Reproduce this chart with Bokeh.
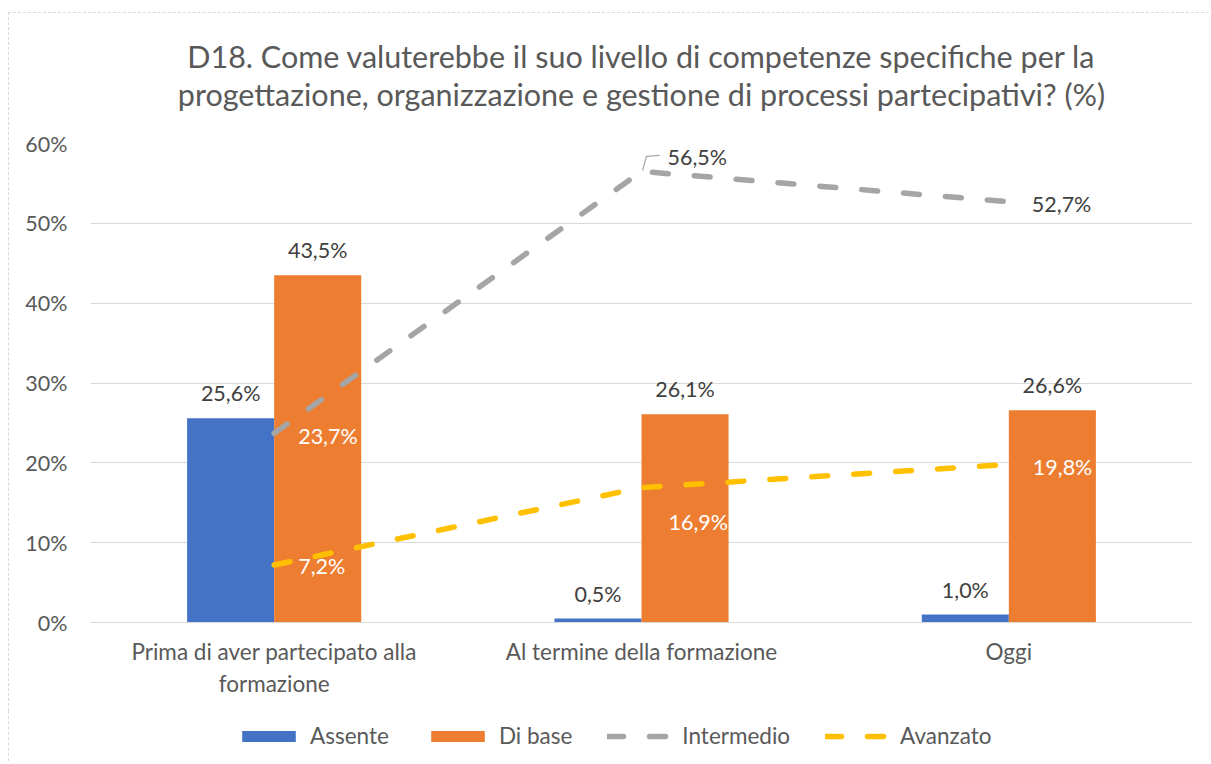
from bokeh.plotting import figure
from bokeh.models import (FactorRange, Range1d, Legend, LegendItem, Title,
                          ColumnDataSource, PrintfTickFormatter, FixedTicker,
                          CategoricalAxis, CustomJSTickFormatter)
from bokeh.layouts import column
from bokeh.transform import dodge
from bokeh.core.properties import value
from bokeh.embed import file_html
from bokeh.resources import INLINE

# ---------------- data ----------------
categories = ["Prima di aver partecipato alla formazione",
              "Al termine della formazione",
              "Oggi"]
tick_line1 = ["Prima di aver partecipato alla", "Al termine della formazione", "Oggi"]
tick_line2 = ["formazione", "", ""]
assente = [25.6, 0.5, 1.0]
di_base = [43.5, 26.1, 26.6]
intermedio = [23.7, 56.5, 52.7]
avanzato = [7.2, 16.9, 19.8]
series_names = ["Assente", "Di base", "Intermedio", "Avanzato"]
title_lines = ["D18. Come valuterebbe il suo livello di competenze specifiche per la",
               "progettazione, organizzazione e gestione di processi partecipativi? (%)"]
y_ticks = [0, 10, 20, 30, 40, 50, 60]

# ---------------- style ----------------
FONT = "Lato"
BLUE, ORANGE, GRAY, YELLOW = "#4472C4", "#ED7D31", "#A5A5A5", "#FFC000"
TXT, LBL, GRID = "#595959", "#404040", "#D9D9D9"
NUM_FS = "21.5px"
WORD_FS = "22.5px"
BAR_W = 0.237
DODGE = BAR_W / 2
DASH = "16 26"
LW = 5.5
BORDER = "1px dashed #D9D9D9"
# label offsets (screen px) for the line series
int_off_x = [24, 26, 23]
int_off_y = [3, -14, 2]
int_col = ["white", LBL, LBL]
ava_off_x = [24, 27, 24]
ava_off_y = [1, 34, 3]
ava_col = ["white", "white", "white"]


def fmt(v):
    return f"{v:.1f}".replace(".", ",") + "%"


def label_formatter(labels):
    return CustomJSTickFormatter(
        args=dict(cats=list(categories), labs=list(labels)),
        code="const i = cats.indexOf(tick); return i >= 0 ? labs[i] : tick;")


src = ColumnDataSource(dict(
    cat=categories,
    assente=assente, di_base=di_base, intermedio=intermedio, avanzato=avanzato,
    assente_lbl=[fmt(v) for v in assente],
    di_base_lbl=[fmt(v) for v in di_base],
    int_lbl=[fmt(v) for v in intermedio],
    ava_lbl=[fmt(v) for v in avanzato],
    int_ox=int_off_x, int_oy=int_off_y, int_col=int_col,
    ava_ox=ava_off_x, ava_oy=ava_off_y, ava_col=ava_col,
))

p = figure(x_range=FactorRange(*categories), y_range=Range1d(0, 60),
           frame_width=1101, frame_height=478,
           output_backend="svg", toolbar_location=None,
           min_border_left=81, min_border_right=18, min_border_bottom=90,
           min_border_top=130)
p.title = None
p.styles = {"margin-left": "8px", "margin-top": "12px",
            "border-left": BORDER, "border-top": BORDER}
p.outline_line_color = None
p.background_fill_color = "white"
p.border_fill_color = "white"

# titles: spacer nearest the plot, then line 2, then line 1
spacer = Title(text=" ", text_font=FONT, text_font_size="25px", standoff=0)
t2 = Title(text=title_lines[1], align="center", text_font=FONT,
           text_font_size="30.5px", text_color=TXT, text_font_style="normal",
           standoff=0)
t1 = Title(text=title_lines[0], align="center", text_font=FONT,
           text_font_size="30.5px", text_color=TXT, text_font_style="normal",
           standoff=0)
p.add_layout(spacer, "above")
p.add_layout(t2, "above")
p.add_layout(t1, "above")

# axes
p.yaxis.ticker = FixedTicker(ticks=y_ticks)
p.yaxis.formatter = PrintfTickFormatter(format="%d%%")
p.yaxis.axis_line_color = None
p.yaxis.major_tick_line_color = None
p.yaxis.minor_tick_line_color = None
p.yaxis.major_label_text_font = FONT
p.yaxis.major_label_text_font_size = NUM_FS
p.yaxis.major_label_text_color = TXT
p.yaxis.major_label_standoff = 17

xa = p.xaxis[0]
xa.axis_line_color = GRID
xa.major_tick_line_color = None
xa.minor_tick_line_color = None
xa.major_label_text_font = FONT
xa.major_label_text_font_size = WORD_FS
xa.major_label_text_color = TXT
xa.major_label_standoff = 9
xa.formatter = label_formatter(tick_line1)

xa2 = CategoricalAxis(axis_line_color=None, major_tick_line_color=None,
                      minor_tick_line_color=None, major_label_text_font=FONT,
                      major_label_text_font_size=WORD_FS,
                      major_label_text_color=TXT, major_label_standoff=-4,
                      formatter=label_formatter(tick_line2))
p.add_layout(xa2, "below")

p.xgrid.grid_line_color = None
p.ygrid.grid_line_color = GRID
p.ygrid.grid_line_width = 1

# bars
b1 = p.vbar(x=dodge("cat", -DODGE, range=p.x_range), top="assente", width=BAR_W,
            source=src, fill_color=BLUE, line_color=None)
b2 = p.vbar(x=dodge("cat", DODGE, range=p.x_range), top="di_base", width=BAR_W,
            source=src, fill_color=ORANGE, line_color=None)

# bar labels
for col, lbl, d in (("assente", "assente_lbl", -DODGE), ("di_base", "di_base_lbl", DODGE)):
    p.text(x=dodge("cat", d, range=p.x_range), y=col, text=lbl, source=src,
           text_align="center", text_baseline="middle", y_offset=-25,
           text_font=value(FONT), text_font_size=NUM_FS, text_color=LBL)

# lines
l1 = p.line(x="cat", y="intermedio", source=src, line_color=GRAY, line_width=LW,
            line_dash=DASH, line_cap="round")
l2 = p.line(x="cat", y="avanzato", source=src, line_color=YELLOW, line_width=LW,
            line_dash=DASH, line_cap="round")

# leader line for the 2nd Intermedio label
px_x = 1.0 / 367.0          # category units per pixel (approx)
px_y = 60.0 / 478.0         # value units per pixel (approx)
i = 1
lead_src = ColumnDataSource(dict(
    x=[(categories[i], 1 * px_x), (categories[i], 5 * px_x), (categories[i], 18 * px_x)],
    y=[intermedio[i] + 1 * px_y, intermedio[i] + 15 * px_y, intermedio[i] + 16 * px_y],
))
p.line(x="x", y="y", source=lead_src, line_color=GRAY, line_width=1.2)

# line labels
p.text(x="cat", y="intermedio", text="int_lbl", source=src, x_offset="int_ox",
       y_offset="int_oy", text_color="int_col", text_align="left",
       text_baseline="middle", text_font=value(FONT), text_font_size=NUM_FS)
p.text(x="cat", y="avanzato", text="ava_lbl", source=src, x_offset="ava_ox",
       y_offset="ava_oy", text_color="ava_col", text_align="left",
       text_baseline="middle", text_font=value(FONT), text_font_size=NUM_FS)

# ---------------- legend strip ----------------
pl = figure(width=1200, height=50, output_backend="svg", toolbar_location=None,
            x_range=Range1d(0, 1), y_range=Range1d(0, 1), min_border=0)
pl.styles = {"margin-left": "8px", "border-left": BORDER}
pl.axis.visible = False
pl.grid.grid_line_color = None
pl.outline_line_color = None
# swatch renderers: zero-height bars / off-range lines, only legend glyphs show
lb1 = pl.vbar(x=[0.5], top=[0], bottom=[0], width=0.01, fill_color=BLUE, line_color=None)
lb2 = pl.vbar(x=[0.5], top=[0], bottom=[0], width=0.01, fill_color=ORANGE, line_color=None)
ll1 = pl.line(x=[0.2, 0.3], y=[-5, -5], line_color=GRAY, line_width=LW,
              line_dash=DASH, line_cap="round")
ll2 = pl.line(x=[0.2, 0.3], y=[-5, -5], line_color=YELLOW, line_width=LW,
              line_dash=DASH, line_cap="round")

legend = Legend(items=[LegendItem(label=series_names[0], renderers=[lb1]),
                       LegendItem(label=series_names[1], renderers=[lb2]),
                       LegendItem(label=series_names[2], renderers=[ll1]),
                       LegendItem(label=series_names[3], renderers=[ll2])],
                orientation="horizontal", location=(145, 12),
                label_text_font=FONT, label_text_font_size=WORD_FS,
                label_text_color=TXT, glyph_width=67, glyph_height=14,
                spacing=35, label_standoff=8, border_line_color=None,
                background_fill_alpha=0, margin=0, padding=0)
pl.add_layout(legend, "center")

layout = column(p, pl, spacing=0)
open("out.html", "w").write(file_html(layout, INLINE))
